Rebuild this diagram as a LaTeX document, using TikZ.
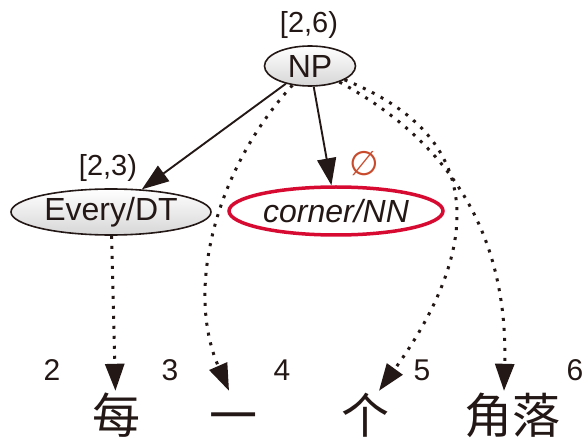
\documentclass[tikz,border=0pt]{standalone}
\usepackage{fontspec}
\setmainfont{Liberation Sans}
\newfontfamily\cjk{Noto Sans CJK SC}
\newfontfamily\symfont{DejaVu Sans}
\usetikzlibrary{arrows.meta,shapes.geometric}
\definecolor{ink}{RGB}{35,24,21}
\definecolor{headred}{RGB}{215,10,50}
\definecolor{nullred}{RGB}{200,75,45}

\begin{document}
\begin{tikzpicture}[
        x=1pt, y=-1pt,
        >={Triangle[length=27pt,width=19pt]},
        cat/.style={ellipse, draw=ink, line width=1.6pt, top color=white, bottom color=black!16, inner sep=0pt, text=ink, font=\fontsize{32}{32}\selectfont},
        headcat/.style={ellipse, draw=headred, line width=3.5pt, fill=white, inner sep=0pt, text=ink, font=\fontsize{32}{32}\selectfont\itshape},
        spanlabel/.style={inner sep=0pt, text=ink, font=\fontsize{29}{29}\selectfont},
        word/.style={inner sep=0pt, text=ink, text height=42pt, text depth=6pt, font=\cjk\fontsize{48}{48}\selectfont},
        index/.style={inner sep=0pt, text=ink, font=\fontsize{30}{30}\selectfont},
        branch/.style={->, draw=ink, line width=1.9pt},
        link/.style={->, draw=ink, line width=3pt, dash pattern=on 3pt off 7pt}
    ]
        \useasboundingbox (0,0) rectangle (588,443);

        % Categories of the tree
        \node[cat, minimum width=91pt, minimum height=40pt] (np) at (310,66) {NP};
        \node[spanlabel] (npspan) at (309,25) {[2,6)};
        \node[cat, minimum width=200pt, minimum height=46pt] (dt) at (111,212) {Every/DT};
        \node[spanlabel] (dtspan) at (108,168) {[2,3)};
        \node[headcat, minimum width=214pt, minimum height=48pt] (nn) at (336,211) {corner/NN};
        \node[text=nullred, inner sep=0pt, font=\symfont\fontsize{34}{34}\selectfont] (nnnull) at (364,164) {∅};

        % Source words and their boundaries
        \node[word] (w1) at (116,415) {每};
        \node[word] (w2) at (233,415) {一};
        \node[word] (w3) at (365,415) {个};
        \node[word] (w4) at (512,415) {角落};
        \foreach \i/\x in {2/52, 3/170, 4/282, 5/422, 6/575}
            \node[index] (b\i) at (\x,370) {\i};

        % Tree edges
        \draw[branch] (np) -- (dt);
        \draw[branch] (np) -- (nn);

        % Alignment links
        \draw[link] (dt) -- (w1);
        \draw[link] (np) .. controls (215,170) and (185,290) .. ([xshift=-4pt]w2.north);
        \draw[link] (np) .. controls (520,150) and (452,290) .. ([xshift=14pt]w3.north);
        \draw[link] (np) .. controls (455,145) and (508,240) .. ([xshift=-8pt]w4.north);

    \end{tikzpicture}
\end{document}
